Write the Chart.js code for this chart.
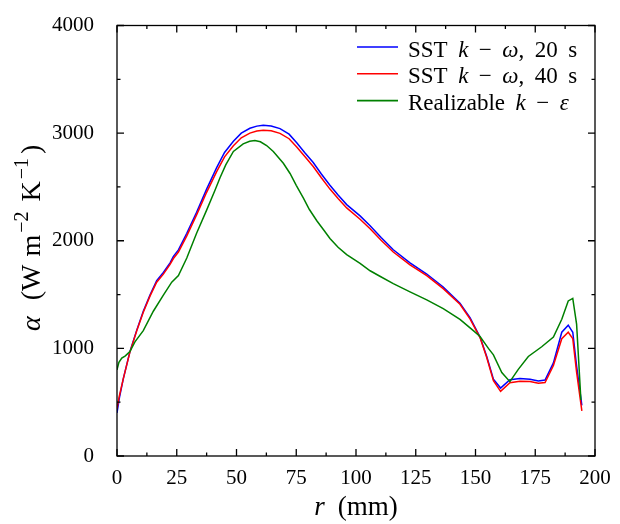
<!DOCTYPE html>
<html><head><meta charset="utf-8">
<script src="https://cdn.jsdelivr.net/npm/chart.js@4/dist/chart.umd.min.js"></script>
<style>html,body{margin:0;padding:0;background:#fff}#wrap{width:620px;height:524px}</style>
</head><body><div id="wrap"><canvas id="c" width="620" height="524"></canvas></div>
<script>
// ---- data (r in mm, alpha in W m^-2 K^-1) ----
const rSST = [0,1,2.6,5.4,8.2,11,13.8,16.6,19.4,22.2,23.6,25.7,29.2,33.3,37.5,41.7,45,48.7,52,55.6,58.5,61.2,64.5,68.2,72,75.2,78.5,82.1,85.5,89.1,92.5,96.1,101.7,105.9,110.5,115.6,122.6,129.6,136.5,143.5,147.7,151.9,154.7,157.5,160.5,164.4,168.6,172.8,176.3,179.1,182.6,186.1,188.8,190.7,192.3,194.5];
const aSST20 = [400,540,714,970,1165,1345,1495,1630,1705,1795,1855,1915,2070,2265,2480,2680,2820,2925,3000,3045,3065,3072,3066,3042,2990,2910,2820,2727,2620,2516,2425,2336,2231,2140,2030,1916,1795,1691,1570,1420,1285,1105,925,714,631,709,721,714,697,706,865,1150,1216,1150,835,470];
const aSST40 = [440,560,714,965,1160,1335,1485,1615,1690,1780,1835,1895,2045,2240,2450,2642,2780,2882,2957,3000,3019,3027,3021,2998,2948,2872,2785,2690,2585,2480,2392,2305,2200,2112,2005,1895,1775,1675,1555,1410,1275,1100,915,700,600,680,695,692,675,682,840,1090,1150,1090,780,420];
const rRKE = [0,0.8,2,3.5,5.4,7.5,11,15.2,19.4,22.9,25.7,29.2,33.3,37.5,41,43.1,45.5,48.7,52.8,55.5,57.7,60,62.6,65.4,69.6,72.4,75,78,80.5,83.6,86.5,89.1,92.5,96.1,101.7,105.9,110,115.6,122.6,129.6,136.5,143.5,149.1,151.9,155.4,157.5,161,164.4,167.9,172.1,177.7,182.6,186.1,188.8,190.7,192.3,194.1];
const aRKE = [800,870,910,930,970,1060,1165,1345,1495,1615,1676,1840,2070,2285,2470,2585,2705,2830,2900,2925,2931,2920,2885,2830,2720,2625,2515,2396,2290,2186,2100,2021,1940,1871,1790,1721,1670,1601,1525,1450,1369,1270,1165,1110,1000,940,775,691,805,925,1015,1105,1270,1441,1465,1225,520];
const seriesLabels = ['SST k − ω, 20 s', 'SST k − ω, 40 s', 'Realizable k − ε'];
const seriesColors = ['#0000ff', '#ff0000', '#008000'];
const xTickValues = [0,25,50,75,100,125,150,175,200];
const yTickValues = [0,1000,2000,3000,4000];
const xTitleParts = [{t:'r',i:1},{g:13},{t:'(mm)'}];
const yTitleParts = [{t:'α',i:1},{g:16},{t:'(W'},{g:8},{t:'m'},{g:2},{t:'−2',s:1},{g:10},{t:'K'},{g:2},{t:'−1',s:1},{g:4},{t:')'}];

const FONT = '"Liberation Serif", "Times New Roman", serif';
const toXY = (rs, as) => rs.map((r, k) => ({x: r, y: as[k]}));

function fontOf(p, size){ return (p.i ? 'italic ' : '') + (p.s ? Math.round(size*0.7) : size) + 'px ' + FONT; }
function drawRich(ctx, parts, x, y, size, align){
  let w = 0;
  for (const p of parts){ if (p.g){ w += p.g; continue; } ctx.font = fontOf(p, size); p._w = ctx.measureText(p.t).width; w += p._w; }
  let cx = align === 'center' ? x - w/2 : x;
  ctx.textAlign = 'left'; ctx.textBaseline = 'alphabetic'; ctx.fillStyle = '#000';
  for (const p of parts){ if (p.g){ cx += p.g; continue; } ctx.font = fontOf(p, size); ctx.fillText(p.t, cx, y - (p.s ? size*0.42 : 0)); cx += p._w; }
}
const ITAL = new Set(['k','ω','ε']);
function labelParts(label){
  const parts = [];
  label.split(' ').forEach((tok, n) => {
    if (n > 0) parts.push({g: 10.5});
    for (const ch of tok){
      const it = ITAL.has(ch) ? 1 : 0;
      const last = parts[parts.length-1];
      if (last && !last.g && last.i === it) last.t += ch; else parts.push({t: ch, i: it});
    }
  });
  return parts;
}

const decor = {
  id: 'decor',
  afterDatasetsDraw(chart){
    const ctx = chart.ctx, ca = chart.chartArea, xs = chart.scales.x, ys = chart.scales.y;
    ctx.save();
    ctx.strokeStyle = '#000'; ctx.lineWidth = 1.3;
    ctx.strokeRect(ca.left, ca.top, ca.right - ca.left, ca.bottom - ca.top);
    ctx.beginPath();
    for (let v = xs.min; v <= xs.max + 1e-9; v += 12.5){
      const px = xs.getPixelForValue(v), len = (v % 25 === 0) ? 7 : 3.5;
      ctx.moveTo(px, ca.bottom); ctx.lineTo(px, ca.bottom - len);
      ctx.moveTo(px, ca.top); ctx.lineTo(px, ca.top + len);
    }
    for (let v = ys.min; v <= ys.max + 1e-9; v += 500){
      const py = ys.getPixelForValue(v), len = (v % 1000 === 0) ? 7 : 3.5;
      ctx.moveTo(ca.left, py); ctx.lineTo(ca.left + len, py);
      ctx.moveTo(ca.right, py); ctx.lineTo(ca.right - len, py);
    }
    ctx.stroke();
    // legend
    chart.data.datasets.forEach((ds, k) => {
      const ly = ca.top + 21.5 + k*26.8;
      ctx.strokeStyle = ds.borderColor; ctx.lineWidth = 1.6;
      ctx.beginPath(); ctx.moveTo(ca.right - 238, ly); ctx.lineTo(ca.right - 197, ly); ctx.stroke();
      drawRich(ctx, labelParts(ds.label), ca.right - 187, ly + 9.5, 23, 'left');
    });
    // axis titles
    drawRich(ctx, xTitleParts, (ca.left + ca.right)/2, 515, 27, 'center');
    ctx.translate(40, (ca.top + ca.bottom)/2 - 3);
    ctx.rotate(-Math.PI/2);
    drawRich(ctx, yTitleParts, 0, 0, 28, 'center');
    ctx.restore();
  }
};

new Chart(document.getElementById('c'), {
  type: 'line',
  data: {
    datasets: [
      {label: seriesLabels[0], data: toXY(rSST, aSST20), borderColor: seriesColors[0], order: 2},
      {label: seriesLabels[1], data: toXY(rSST, aSST40), borderColor: seriesColors[1], order: 1},
      {label: seriesLabels[2], data: toXY(rRKE, aRKE), borderColor: seriesColors[2], order: 0}
    ].map(d => Object.assign(d, {borderWidth: 1.5, pointRadius: 0, tension: 0, fill: false}))
  },
  options: {
    responsive: false, animation: false, devicePixelRatio: 1, events: [],
    layout: {padding: {left: 0, right: 25, top: 12, bottom: 0}},
    plugins: {legend: {display: false}, tooltip: {enabled: false}},
    scales: {
      x: {
        type: 'linear', min: 0, max: 200,
        grid: {display: false}, border: {display: false},
        afterBuildTicks: s => { s.ticks = xTickValues.map(v => ({value: v})); },
        afterFit: s => { s.height = 68; },
        ticks: {color: '#000', padding: 4, maxRotation: 0, callback: v => String(v), font: {family: FONT, size: 21, lineHeight: 1}}
      },
      y: {
        type: 'linear', min: 0, max: 4000,
        grid: {display: false}, border: {display: false},
        afterBuildTicks: s => { s.ticks = yTickValues.map(v => ({value: v})); },
        afterFit: s => { s.width = 117; },
        ticks: {color: '#000', padding: 15, callback: v => String(v), font: {family: FONT, size: 21, lineHeight: 1}}
      }
    }
  },
  plugins: [decor]
});
</script></body></html>
